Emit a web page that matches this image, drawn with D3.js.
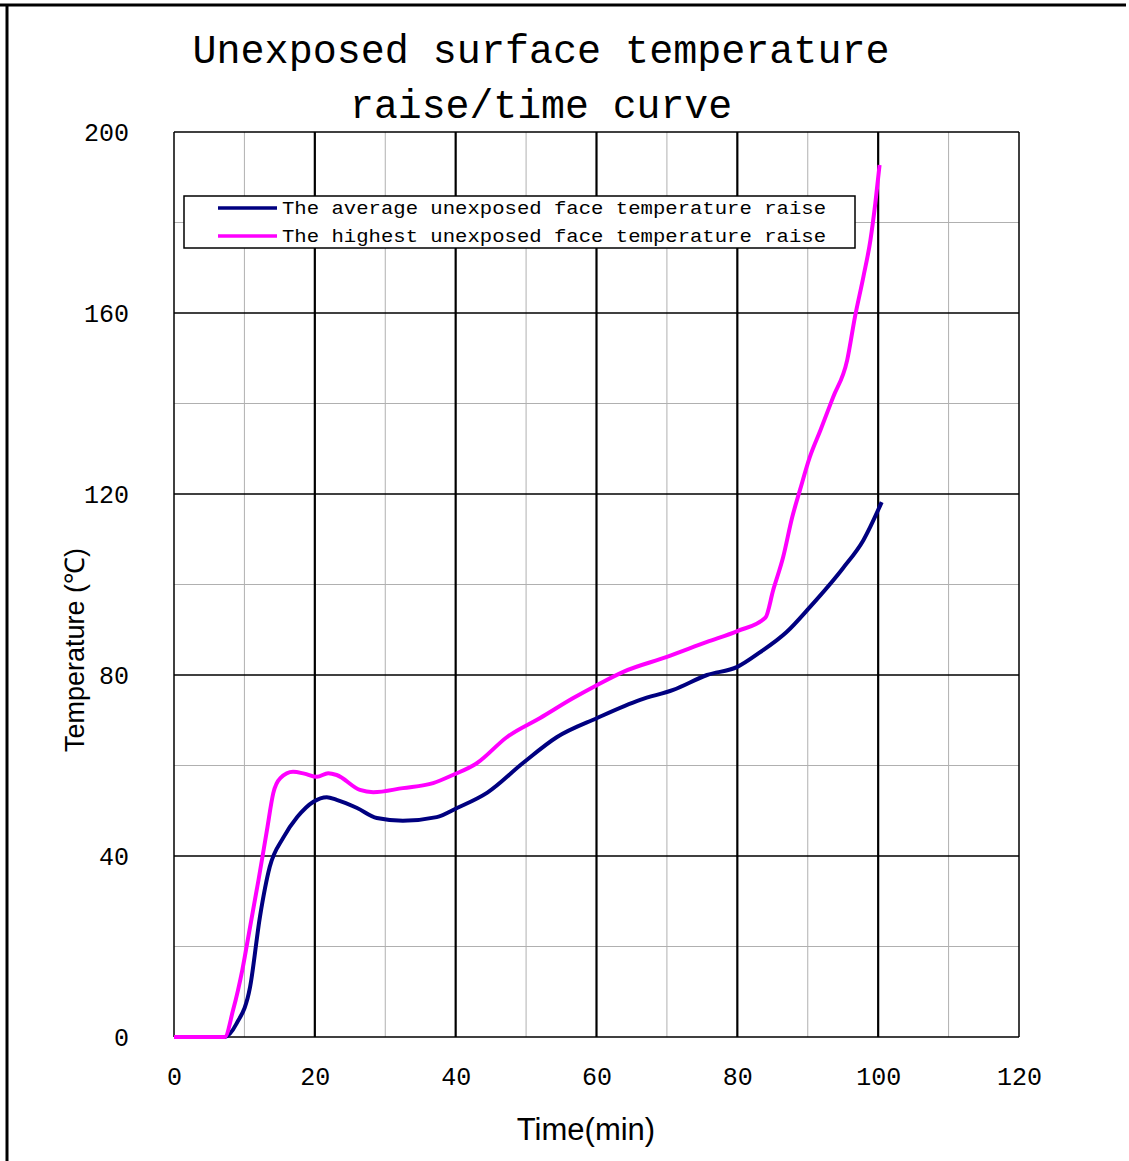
<!DOCTYPE html>
<html>
<head>
<meta charset="utf-8">
<script src="https://cdn.jsdelivr.net/npm/d3@7"></script>
<style>
  body { margin: 0; background: #fff; }
</style>
</head>
<body>
<script>
// values
var avgTime = [0, 7.2, 8.9, 10.8, 12.2, 13.6, 15.5, 17.5, 19.8, 21.7, 23.1, 26, 28.8, 32.5, 37.3, 40.2, 44.5, 49.6, 54.4, 60.1, 66.2, 70.9, 75.7, 80, 83.2, 87, 90.3, 95, 97.9, 100.5];
var avgTemp = [0, 0, 3, 11, 26.5, 37.6, 44, 48.6, 52, 53, 52.4, 50.6, 48.4, 47.8, 48.6, 50.6, 54, 60.6, 66.3, 70.5, 74.5, 76.7, 80, 81.8, 85, 89.5, 95, 103.6, 109.8, 118.2];

var maxTime = [0, 7.2, 8.4, 9.7, 10.8, 12, 13.2, 14.1, 15.1, 16.9, 18.5, 20.3, 21.9, 23.1, 26.4, 28.3, 32.5, 36.8, 39.6, 43, 47.3, 52, 56.7, 60.1, 63.8, 70, 75.7, 80, 84, 85.1, 86.5, 87.8, 88.9, 90.3, 91.8, 93.6, 95.6, 96.7, 97.9, 98.9, 99.6, 100.2];
var maxTemp = [0, 0, 6, 14.8, 24.3, 34.7, 45.7, 53.9, 57.2, 58.6, 58.2, 57.5, 58.3, 57.9, 54.6, 54.1, 55, 56.1, 57.9, 60.5, 66.3, 70.5, 74.9, 77.8, 80.7, 84, 87.3, 89.7, 92.7, 98.8, 106, 114.9, 120.9, 128.2, 134.1, 141.4, 149.6, 159.1, 168, 176.1, 184.3, 192.7];

var xTicks = [0, 20, 40, 60, 80, 100, 120];
var yTicks = [0, 40, 80, 120, 160, 200];
var seriesNames = ["The average unexposed face temperature raise", "The highest unexposed face temperature raise"];

var drawChart = function() {
  var W = 1129, H = 1161;
  var plotLeft = 174, plotRight = 1019, plotTop = 132, plotBottom = 1037;

  var svg = d3.select("body").append("svg")
    .attr("width", W)
    .attr("height", H);

  // outer frame (top and left edges only)
  svg.append("line").attr("x1", 0).attr("x2", 1126).attr("y1", 5).attr("y2", 5)
    .attr("stroke", "#000").attr("stroke-width", 3);
  svg.append("line").attr("x1", 7).attr("x2", 7).attr("y1", 5).attr("y2", H)
    .attr("stroke", "#000").attr("stroke-width", 3);

  var x = d3.scaleLinear().domain([0, 120]).range([plotLeft, plotRight]);
  var y = d3.scaleLinear().domain([0, 200]).range([plotBottom, plotTop]);

  // minor grid
  var g = svg.append("g");
  d3.range(10, 120, 20).forEach(function(v) {
    g.append("line").attr("x1", x(v)).attr("x2", x(v)).attr("y1", plotTop).attr("y2", plotBottom)
      .attr("stroke", "#b0b0b0").attr("stroke-width", 1);
  });
  d3.range(20, 200, 40).forEach(function(v) {
    g.append("line").attr("x1", plotLeft).attr("x2", plotRight).attr("y1", y(v)).attr("y2", y(v))
      .attr("stroke", "#b0b0b0").attr("stroke-width", 1.2);
  });
  // major grid
  xTicks.forEach(function(v) {
    g.append("line").attr("x1", x(v)).attr("x2", x(v)).attr("y1", plotTop).attr("y2", plotBottom)
      .attr("stroke", "#000").attr("stroke-width", v == 0 || v == 120 ? 1.5 : 2.2);
  });
  yTicks.forEach(function(v) {
    g.append("line").attr("x1", plotLeft).attr("x2", plotRight).attr("y1", y(v)).attr("y2", y(v))
      .attr("stroke", "#000").attr("stroke-width", 1.5);
  });

  // axes (labels only)
  var xAxis = svg.append("g")
    .attr("transform", "translate(0," + plotBottom + ")")
    .call(d3.axisBottom(x).tickValues(xTicks).tickSize(0).tickPadding(30));
  var yAxis = svg.append("g")
    .attr("transform", "translate(" + plotLeft + ",0)")
    .call(d3.axisLeft(y).tickValues(yTicks).tickSize(0).tickPadding(45));
  [xAxis, yAxis].forEach(function(a) {
    a.select(".domain").remove();
    a.selectAll("text")
      .attr("font-family", "Liberation Mono, monospace")
      .attr("font-size", 25)
      .attr("fill", "#000");
  });

  // curves
  var line = d3.line()
    .curve(d3.curveMonotoneX)
    .x(function(d) { return x(d[0]); })
    .y(function(d) { return y(d[1]); });

  var avgData = avgTime.map(function(t, i) { return [t, avgTemp[i]]; });
  var maxData = maxTime.map(function(t, i) { return [t, maxTemp[i]]; });

  svg.append("path").datum(avgData)
    .attr("d", line).attr("fill", "none")
    .attr("stroke", "#000080").attr("stroke-width", 4)
    .attr("stroke-linejoin", "round");
  svg.append("path").datum(maxData)
    .attr("d", line).attr("fill", "none")
    .attr("stroke", "#ff00ff").attr("stroke-width", 4)
    .attr("stroke-linejoin", "round");

  // legend
  var lg = svg.append("g");
  lg.append("rect").attr("x", 184).attr("y", 196).attr("width", 671).attr("height", 52)
    .attr("fill", "#fff").attr("stroke", "#000").attr("stroke-width", 1.5);
  var colors = ["#000080", "#ff00ff"];
  seriesNames.forEach(function(name, i) {
    var ly = 208 + i * 28;
    lg.append("line").attr("x1", 218).attr("x2", 277).attr("y1", ly).attr("y2", ly)
      .attr("stroke", colors[i]).attr("stroke-width", 3.5);
    lg.append("text").attr("x", 282).attr("y", ly + 6)
      .attr("font-family", "Liberation Mono, monospace")
      .attr("font-size", 19)
      .attr("textLength", 544).attr("lengthAdjust", "spacingAndGlyphs")
      .text(name);
  });

  // title
  var titleLines = ["Unexposed surface temperature", "raise/time curve"];
  var titleWidths = [697, 382];
  titleLines.forEach(function(t, i) {
    svg.append("text")
      .attr("x", 541).attr("y", 63 + i * 55)
      .attr("text-anchor", "middle")
      .attr("font-family", "Liberation Mono, monospace")
      .attr("font-size", 40)
      .attr("textLength", titleWidths[i]).attr("lengthAdjust", "spacingAndGlyphs")
      .text(t);
  });

  // axis titles
  svg.append("text")
    .attr("x", 586).attr("y", 1140)
    .attr("text-anchor", "middle")
    .attr("font-family", "Liberation Sans, Arial, sans-serif")
    .attr("font-size", 31)
    .text("Time(min)");
  svg.append("text")
    .attr("transform", "translate(84,650) rotate(-90)")
    .attr("text-anchor", "middle")
    .attr("font-family", "Liberation Sans, Arial, sans-serif")
    .attr("font-size", 27)
    .text("Temperature (\u2103)");
};

drawChart();
</script>
</body>
</html>
